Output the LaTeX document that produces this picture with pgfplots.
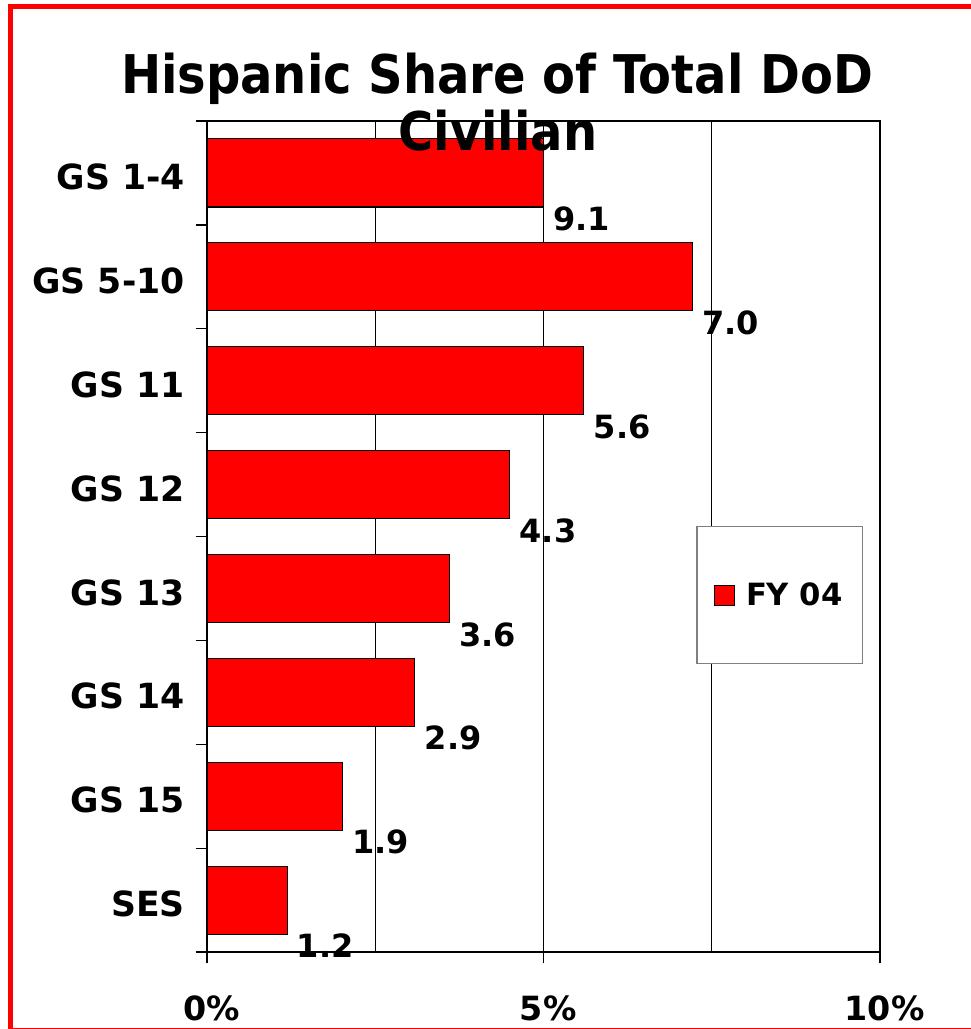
\documentclass[border=0pt]{standalone}
\usepackage{pgfplots}
\pgfplotsset{compat=1.18}
\usepackage{fontspec}
\setmainfont{DejaVu Sans}
\newfontfamily\condfont{DejaVu Sans Condensed}

\begin{document}
\begin{tikzpicture}
% page frame, 1px = 0.75pt
\useasboundingbox (0,0) rectangle (728.25pt,-771.75pt);
\draw[red,line width=3.75pt] (7.9pt,-4.5pt) rectangle (745pt,-772.5pt);
\begin{axis}[
 at={(155.25pt,-714pt)},anchor=south west,
 scale only axis,width=504.75pt,height=623.25pt,
 xbar,bar width=0.655,
 xmin=0,xmax=10,ymin=-0.5,ymax=7.5,y dir=reverse,
 axis line style={black,line width=1pt},
 xtick={0,5,10},xticklabels={0\%,5\%,10\%},
 minor xtick={2.5,7.5},
 xmajorgrids,xminorgrids,grid style={black,line width=0.9pt},
 minor tick length=0pt,
 xtick pos=bottom,ytick pos=left,tick align=outside,
 tick style={black,line width=0.9pt},
 major tick length=8.5pt,
 ytick={-0.5,0.5,...,7.5},yticklabels={},
 extra y ticks={0,...,7},
 extra y tick labels={GS 1-4,GS 5-10,GS 11,GS 12,GS 13,GS 14,GS 15,SES},
 extra y tick style={tick style={draw=none}},
 x tick label style={font=\fontsize{25}{30}\selectfont\bfseries,anchor=center,yshift=-33.5pt,xshift=3.5pt},
 y tick label style={font=\fontsize{26}{30}\selectfont\bfseries,anchor=east,inner sep=0pt,xshift=-8pt,yshift=-3pt},
 nodes near coords,point meta=explicit symbolic,
 nodes near coords style={font=\fontsize{24}{28}\selectfont\bfseries,anchor=west,inner sep=0pt,xshift=7pt,yshift=-34.5pt},
 legend style={at={(axis cs:7.27,3.4)},anchor=north west,draw=gray,line width=1pt,
  inner xsep=13pt,inner ysep=40pt,font=\fontsize{23}{27}\selectfont\bfseries},
 legend image code/.code={\draw[#1,draw=black,line width=0.8pt] (2pt,-7.5pt) rectangle (17pt,7.5pt);},
]
\addplot[fill=red,draw=black,line width=0.8pt] coordinates {
 (5.0,0) [9.1]
 (7.21,1) [7.0]
 (5.60,2) [5.6]
 (4.50,3) [4.3]
 (3.60,4) [3.6]
 (3.09,5) [2.9]
 (2.01,6) [1.9]
 (1.19,7) [1.2]
};
\addlegendentry{\hspace{6pt}FY 04}
\end{axis}
\node[anchor=base,inner sep=0pt,font=\condfont\fontsize{40}{48}\selectfont\bfseries] at (372.75pt,-69.75pt) {Hispanic Share of Total DoD};
\node[anchor=base,inner sep=0pt,font=\condfont\fontsize{40}{48}\selectfont\bfseries] at (373.5pt,-112.5pt) {Civilian};
\end{tikzpicture}
\end{document}
